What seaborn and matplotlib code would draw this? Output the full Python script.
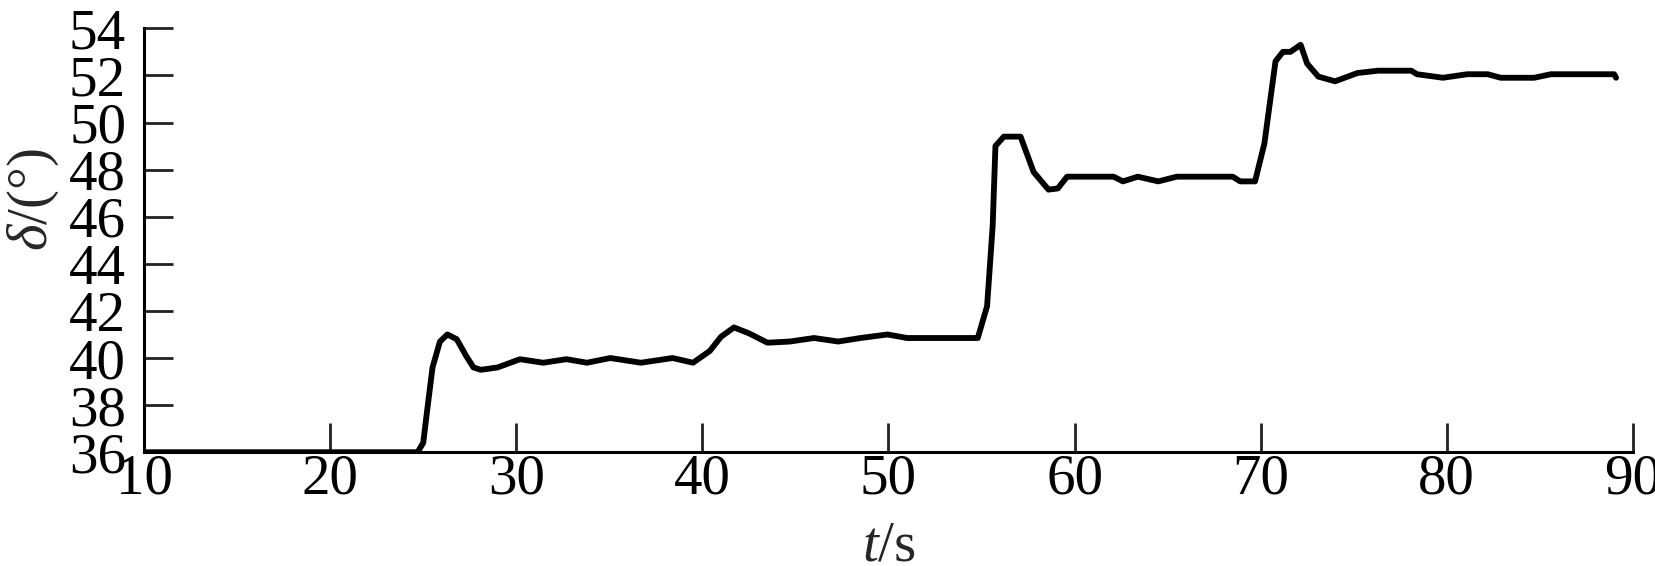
import matplotlib
matplotlib.use("Agg")
import matplotlib.pyplot as plt
import numpy as np
import pandas as pd
import seaborn as sns

# values
t_s = [10.0, 24.7, 25.0, 25.2, 25.5, 25.9, 26.3, 26.8, 27.3, 27.7, 28.1, 29.0,
       30.2, 31.45, 32.7, 33.8, 35.05, 36.7, 38.4, 39.5, 40.4, 41.0, 41.7, 42.5,
       43.5, 44.7, 46.0, 47.3, 48.5, 49.95, 51.0, 54.8, 55.3, 55.6, 55.75, 56.2,
       57.1, 57.8, 58.6, 59.1, 59.6, 62.1, 62.6, 63.4, 64.5, 65.5, 68.5, 68.9,
       69.7, 70.2, 70.8, 71.2, 71.6, 72.15, 72.5, 73.1, 74.0, 75.2, 76.3, 78.1,
       78.4, 79.8, 81.1, 82.2, 82.9, 84.7, 85.6, 89.0, 89.1]
delta_deg = [36.0, 36.0, 36.4, 37.7, 39.6, 40.7, 41.0, 40.8, 40.1, 39.6, 39.5, 39.6,
             39.95, 39.8, 39.95, 39.8, 40.0, 39.8, 40.0, 39.8, 40.3, 40.9, 41.3, 41.05,
             40.65, 40.7, 40.85, 40.7, 40.85, 41.0, 40.85, 40.85, 42.2, 45.6, 49.0, 49.4,
             49.4, 47.9, 47.15, 47.2, 47.7, 47.7, 47.5, 47.7, 47.5, 47.7, 47.7, 47.5,
             47.5, 49.1, 52.6, 53.0, 53.0, 53.3, 52.5, 51.95, 51.75, 52.1, 52.2, 52.2,
             52.05, 51.9, 52.05, 52.05, 51.9, 51.9, 52.05, 52.05, 51.9]
x_ticks = [10, 20, 30, 40, 50, 60, 70, 80, 90]
y_ticks = [36, 38, 40, 42, 44, 46, 48, 50, 52, 54]

df = pd.DataFrame({"t": t_s, "delta": delta_deg})

sns.set_style("ticks")
plt.rcParams["font.family"] = ["Liberation Serif", "DejaVu Serif"]
plt.rcParams["mathtext.fontset"] = "custom"
plt.rcParams["mathtext.rm"] = "Liberation Serif"
plt.rcParams["mathtext.it"] = "Liberation Serif:italic"

fig = plt.figure(figsize=(16.56, 5.66), dpi=100)
ax = fig.add_axes([0.087, 0.201, 0.899, 0.749])

sns.lineplot(data=df, x="t", y="delta", ax=ax, color="black", linewidth=4.2,
             solid_joinstyle="round", solid_capstyle="round")

ax.set_xlim(10, 90)
ax.set_ylim(36, 54)
ax.set_xticks(x_ticks)
ax.set_yticks(y_ticks)

sns.despine(ax=ax)
for side in ["left", "bottom"]:
    ax.spines[side].set_linewidth(2.2)
    ax.spines[side].set_color("black")

ax.tick_params(axis="both", direction="in", length=21, width=2.0,
               color="#222222", labelsize=41, labelcolor="black")
ax.tick_params(axis="x", pad=1)
ax.tick_params(axis="y", pad=13)

ax.set_xlabel(r"$t$/s", fontsize=41)
ax.xaxis.set_label_coords(0.5, -0.16)
ax.set_ylabel(r"$\delta$/(°)", fontsize=41)
ax.yaxis.set_label_coords(-0.056, 0.595)

fig.savefig("out.png", dpi=100)
